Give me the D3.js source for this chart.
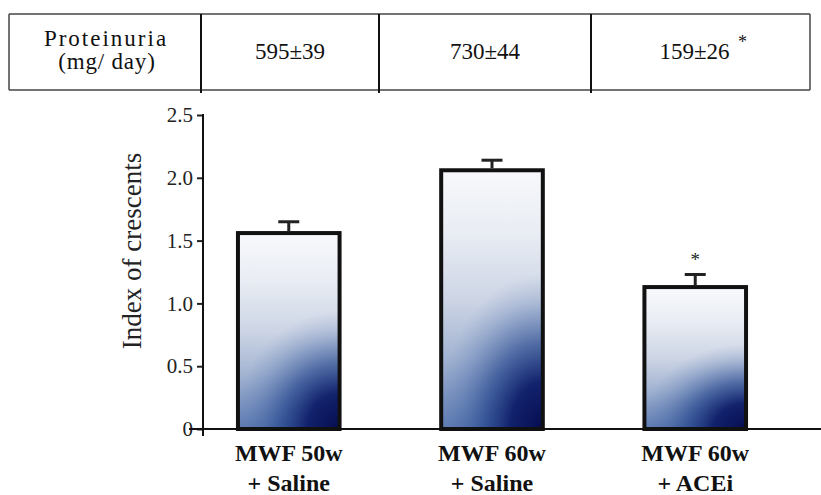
<!DOCTYPE html>
<html><head><meta charset="utf-8">
<script src="https://cdn.jsdelivr.net/npm/d3@7"></script>
<style>body{margin:0;background:#fff}svg{display:block}</style>
</head><body>
<script>
const categories = ["MWF 50w|+ Saline", "MWF 60w|+ Saline", "MWF 60w|+ ACEi"];
const values = [1.56, 2.06, 1.13];
const errors = [0.09, 0.08, 0.10];
const significant = [false, false, true];
const proteinuria = ["595±39", "730±44", "159±26"];
const proteinuriaSig = [false, false, true];
const yTicks = [0, 0.5, 1.0, 1.5, 2.0, 2.5];
const yTickLabels = ["0", "0.5", "1.0", "1.5", "2.0", "2.5"];

const W = 821, H = 495;
const svg = d3.select("body").append("svg").attr("width", W).attr("height", H);
const serif = "'Liberation Serif', serif";

// gradients
const defs = svg.append("defs");
const lg = defs.append("linearGradient").attr("id", "baseGrad").attr("x1", 0).attr("y1", 0).attr("x2", 0).attr("y2", 1);
[[0, "#f8f9fc"], [0.25, "#e8ecf3"], [0.5, "#cdd5e5"], [0.72, "#a3b4d2"], [1, "#5d7ab1"]]
  .forEach(([o, c]) => lg.append("stop").attr("offset", o).attr("stop-color", c));
const rg = defs.append("radialGradient").attr("id", "darkGrad")
  .attr("cx", 1).attr("cy", 1).attr("r", 1).attr("fx", 1).attr("fy", 1)
  .attr("gradientTransform", "translate(1,1) scale(1.05,0.6) translate(-1,-1)");
[[0, "#060d4f", 1], [0.3, "#0d1c68", 0.95], [0.55, "#1f4089", 0.65], [0.8, "#3f62a3", 0.25], [1, "#6582b6", 0]]
  .forEach(([o, c, a]) => rg.append("stop").attr("offset", o).attr("stop-color", c).attr("stop-opacity", a));

// table
const tTop = 14, tBot = 90, tLeft = 9, tRight = 810;
const cellX = [tLeft, 201, 379, 591, tRight];
const tb = svg.append("g");
const hl = (x1, x2, yy) => tb.append("line").attr("x1", x1).attr("x2", x2).attr("y1", yy).attr("y2", yy).attr("stroke", "#444").attr("stroke-width", 1.5);
hl(tLeft, tRight, tTop); hl(tLeft, tRight, tBot);
[0, 4].forEach(i => tb.append("line").attr("x1", cellX[i]).attr("x2", cellX[i]).attr("y1", tTop).attr("y2", tBot).attr("stroke", "#444").attr("stroke-width", 1.5));
[1, 2, 3].forEach(i => tb.append("line").attr("x1", cellX[i]).attr("x2", cellX[i])
  .attr("y1", tTop).attr("y2", tBot + 3).attr("stroke", "#111").attr("stroke-width", 2));
tb.append("text").attr("x", (cellX[0] + cellX[1]) / 2 + 1).attr("y", 46).attr("text-anchor", "middle")
  .attr("font-family", serif).attr("font-size", 23).attr("letter-spacing", 2).attr("fill", "#111").text("Proteinuria");
tb.append("text").attr("x", (cellX[0] + cellX[1]) / 2 + 2).attr("y", 69).attr("text-anchor", "middle")
  .attr("font-family", serif).attr("font-size", 23).attr("letter-spacing", 0.8).attr("fill", "#111").text("(mg/ day)");
proteinuria.forEach((p, i) => {
  const cx = (cellX[i + 1] + cellX[i + 2]) / 2 - (proteinuriaSig[i] ? 6 : 0);
  tb.append("text").attr("x", cx).attr("y", 59).attr("text-anchor", "middle")
    .attr("font-family", serif).attr("font-size", 23).attr("fill", "#111").text(p);
  if (proteinuriaSig[i]) {
    tb.append("text").attr("x", cx + 48).attr("y", 48).attr("text-anchor", "middle")
      .attr("font-family", serif).attr("font-size", 18).attr("fill", "#111").text("*");
  }
});

// scales
const y = d3.scaleLinear().domain([0, 2.5]).range([429, 115]);
const x = d3.scaleBand().domain(categories).range([203, 781]).paddingInner(0.5).paddingOuter(0.172);

// bars
const bars = svg.append("g");
categories.forEach((c, i) => {
  const bx = x(c), bw = x.bandwidth(), cx = bx + bw / 2;
  const by = y(values[i]), bh = y(0) - y(values[i]);
  bars.append("rect").attr("x", bx).attr("y", by).attr("width", bw).attr("height", bh).attr("fill", "url(#baseGrad)");
  bars.append("rect").attr("x", bx).attr("y", by).attr("width", bw).attr("height", bh).attr("fill", "url(#darkGrad)");
  bars.append("rect").attr("x", bx).attr("y", by).attr("width", bw).attr("height", bh)
    .attr("fill", "none").attr("stroke", "#111").attr("stroke-width", 4);
  const ey = y(values[i] + errors[i]);
  bars.append("line").attr("x1", cx).attr("x2", cx).attr("y1", by - 2).attr("y2", ey)
    .attr("stroke", "#222").attr("stroke-width", 3);
  bars.append("line").attr("x1", cx - 10.5).attr("x2", cx + 10.5).attr("y1", ey).attr("y2", ey)
    .attr("stroke", "#222").attr("stroke-width", 3);
  if (significant[i]) {
    bars.append("text").attr("x", cx).attr("y", ey - 9).attr("text-anchor", "middle")
      .attr("font-family", serif).attr("font-size", 19).attr("fill", "#222").text("*");
  }
});

// y axis
const yAxis = d3.axisLeft(y).tickValues(yTicks).tickFormat((d, i) => yTickLabels[i]).tickSize(6).tickPadding(4);
const ya = svg.append("g").attr("transform", "translate(203,0)").call(yAxis);
ya.attr("font-family", serif);
ya.select(".domain").remove();
ya.selectAll(".tick line").attr("stroke", "#222").attr("stroke-width", 2);
ya.selectAll(".tick text").attr("font-family", serif).attr("font-size", 21).attr("fill", "#222");
svg.append("line").attr("x1", 203).attr("x2", 203).attr("y1", 114).attr("y2", 436).attr("stroke", "#111").attr("stroke-width", 2);
// x axis line
svg.append("line").attr("x1", 189).attr("x2", 821).attr("y1", 429).attr("y2", 429).attr("stroke", "#111").attr("stroke-width", 2);

// x labels
categories.forEach(c => {
  const parts = c.split("|");
  const cx = x(c) + x.bandwidth() / 2;
  parts.forEach((p, j) => svg.append("text").attr("x", cx).attr("y", 461 + j * 30).attr("text-anchor", "middle")
    .attr("font-family", serif).attr("font-weight", "bold").attr("font-size", 24).attr("fill", "#111").text(p));
});

// y label
svg.append("text").attr("transform", "translate(141,251) rotate(-90)").attr("text-anchor", "middle")
  .attr("font-family", serif).attr("font-size", 27).attr("fill", "#222").text("Index of crescents");
</script>
</body></html>
